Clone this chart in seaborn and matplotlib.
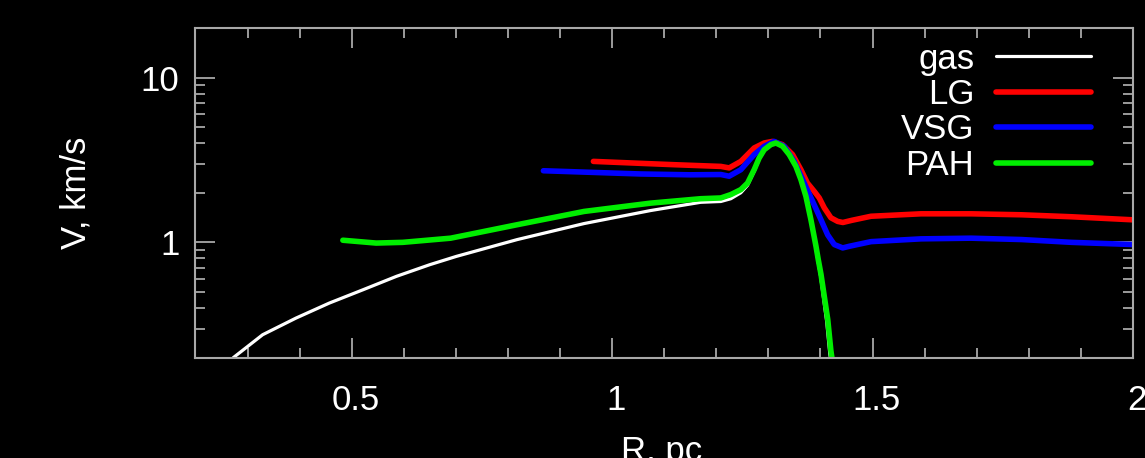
import numpy as np
import pandas as pd
import matplotlib
matplotlib.use("Agg")
import matplotlib.pyplot as plt
import matplotlib.ticker as mticker
import matplotlib.transforms as mtransforms
import seaborn as sns

# ---- data ----
gas_r = [0.262, 0.273, 0.329, 0.393, 0.457, 0.522, 0.586, 0.650, 0.701, 0.818, 0.946, 1.074,
         1.170, 1.2087, 1.2279, 1.2471, 1.260, 1.2727, 1.2823, 1.292, 1.3048, 1.3144, 1.3273,
         1.340, 1.3529, 1.3625, 1.3721, 1.3817, 1.3905, 1.3950, 1.400, 1.412, 1.418, 1.421]
gas_v = [0.18, 0.20, 0.275, 0.347, 0.428, 0.516, 0.622, 0.732, 0.822, 1.04, 1.30, 1.56,
         1.75, 1.77, 1.84, 2.00, 2.22, 2.70, 3.20, 3.62, 3.90, 4.00, 3.83,
         3.41, 2.89, 2.40, 1.90, 1.37, 0.95, 0.78, 0.63, 0.33, 0.21, 0.18]

lg_r = [0.964, 1.040, 1.119, 1.2087, 1.2247, 1.2471, 1.2727, 1.292, 1.308, 1.327, 1.3465,
        1.3625, 1.375, 1.388, 1.3977, 1.4073, 1.420, 1.433, 1.443, 1.460, 1.497, 1.593,
        1.689, 1.786, 1.882, 2.000]
lg_v = [3.10, 3.03, 2.96, 2.89, 2.83, 3.10, 3.74, 4.01, 4.10, 3.92, 3.41,
        2.76, 2.29, 2.04, 1.86, 1.62, 1.41, 1.34, 1.32, 1.36, 1.44, 1.49,
        1.49, 1.47, 1.43, 1.37]

vsg_r = [0.868, 0.960, 1.055, 1.150, 1.2087, 1.2247, 1.2471, 1.2727, 1.292, 1.3112, 1.3304,
         1.3496, 1.3688, 1.385, 1.401, 1.4138, 1.4265, 1.4427, 1.455, 1.497, 1.593, 1.689,
         1.786, 1.882, 2.000]
vsg_v = [2.72, 2.66, 2.60, 2.57, 2.58, 2.52, 2.76, 3.41, 3.83, 4.10, 3.83,
         3.10, 2.29, 1.77, 1.37, 1.11, 0.97, 0.925, 0.946, 1.01, 1.05, 1.06,
         1.04, 1.00, 0.97]

pah_r = [0.483, 0.547, 0.598, 0.690, 0.818, 0.946, 1.074, 1.170, 1.2087, 1.2279, 1.2471,
         1.260, 1.2727, 1.2823, 1.292, 1.3048, 1.3144, 1.3273, 1.340, 1.3529, 1.3625, 1.3721,
         1.3817, 1.3913, 1.3958, 1.401, 1.414, 1.420, 1.424]
pah_v = [1.03, 0.99, 1.00, 1.06, 1.28, 1.54, 1.73, 1.84, 1.86, 1.95, 2.09,
         2.29, 2.76, 3.25, 3.65, 3.92, 4.01, 3.83, 3.41, 2.89, 2.40, 1.90,
         1.37, 0.95, 0.785, 0.64, 0.34, 0.22, 0.18]

series_names = ["gas", "LG", "VSG", "PAH"]
series_colors = ["#ffffff", "#ff0000", "#0000ff", "#00ee00"]
series_widths = [2.3, 4.0, 4.0, 4.0]

x_ticks = [0.5, 1.0, 1.5, 2.0]
x_tick_labels = ["0.5", "1", "1.5", "2"]
y_ticks = [1, 10]
y_tick_labels = ["1", "10"]

# ---- style ----
sns.set_theme(style="ticks")
plt.rcParams.update({
    "figure.facecolor": "black",
    "axes.facecolor": "black",
    "savefig.facecolor": "black",
    "axes.edgecolor": "#a8a8a8",
    "text.color": "white",
    "axes.labelcolor": "white",
    "xtick.color": "#a8a8a8",
    "ytick.color": "#a8a8a8",
    "xtick.labelcolor": "white",
    "ytick.labelcolor": "white",
})
plt.rcParams["font.family"] = ["Liberation Sans", "DejaVu Sans"]

FS = 25

fig = plt.figure(figsize=(11.45, 4.58), dpi=100)
ax = fig.add_axes([0.1707, 0.2194, 0.9895 - 0.1707, 0.9389 - 0.2194])

data = [(gas_r, gas_v), (lg_r, lg_v), (vsg_r, vsg_v), (pah_r, pah_v)]
for (r, v), name, c, lw in zip(data, series_names, series_colors, series_widths):
    df = pd.DataFrame({"R": r, "V": v})
    sns.lineplot(data=df, x="R", y="V", ax=ax, color=c, linewidth=lw, label=name,
                 estimator=None, sort=False)

ax.set_yscale("log")
ax.set_xlim(0.2, 2.0)
ax.set_ylim(0.2, 20)

ax.xaxis.set_major_locator(mticker.FixedLocator(x_ticks))
ax.xaxis.set_major_formatter(mticker.FixedFormatter(x_tick_labels))
ax.xaxis.set_minor_locator(mticker.MultipleLocator(0.1))
ax.yaxis.set_major_locator(mticker.FixedLocator(y_ticks))
ax.yaxis.set_major_formatter(mticker.FixedFormatter(y_tick_labels))
ax.yaxis.set_minor_locator(mticker.LogLocator(base=10, subs=np.arange(2, 10)))
ax.yaxis.set_minor_formatter(mticker.NullFormatter())

ax.tick_params(which="both", direction="in", top=True, right=True, width=1.3)
ax.tick_params(which="major", length=14.4, labelsize=FS)
ax.tick_params(axis="x", which="major", pad=19)
ax.tick_params(axis="y", which="major", pad=11.5)
ax.tick_params(which="minor", length=7.2)
for s in ax.spines.values():
    s.set_linewidth(1.5)
    s.set_visible(True)

# small rightward shift of x tick labels, as in the reference
shift = mtransforms.ScaledTranslation(4 / 100, 0, fig.dpi_scale_trans)
for lab in ax.get_xticklabels():
    lab.set_transform(lab.get_transform() + shift)

ax.set_xlabel("R, pc", fontsize=FS)
ax.set_ylabel("V, km/s", fontsize=FS)
ax.xaxis.set_label_coords(0.497, -0.235)
ax.yaxis.set_label_coords(-0.110, 0.5)

leg = ax.legend(loc="upper right", bbox_to_anchor=(0.970, 0.998), markerfirst=False,
                frameon=False, fontsize=FS, handlelength=2.74, handletextpad=0.62,
                labelspacing=0.07, borderaxespad=0.0)
for t in leg.get_texts():
    t.set_color("white")

fig.savefig("out.png", dpi=100, facecolor="black")
